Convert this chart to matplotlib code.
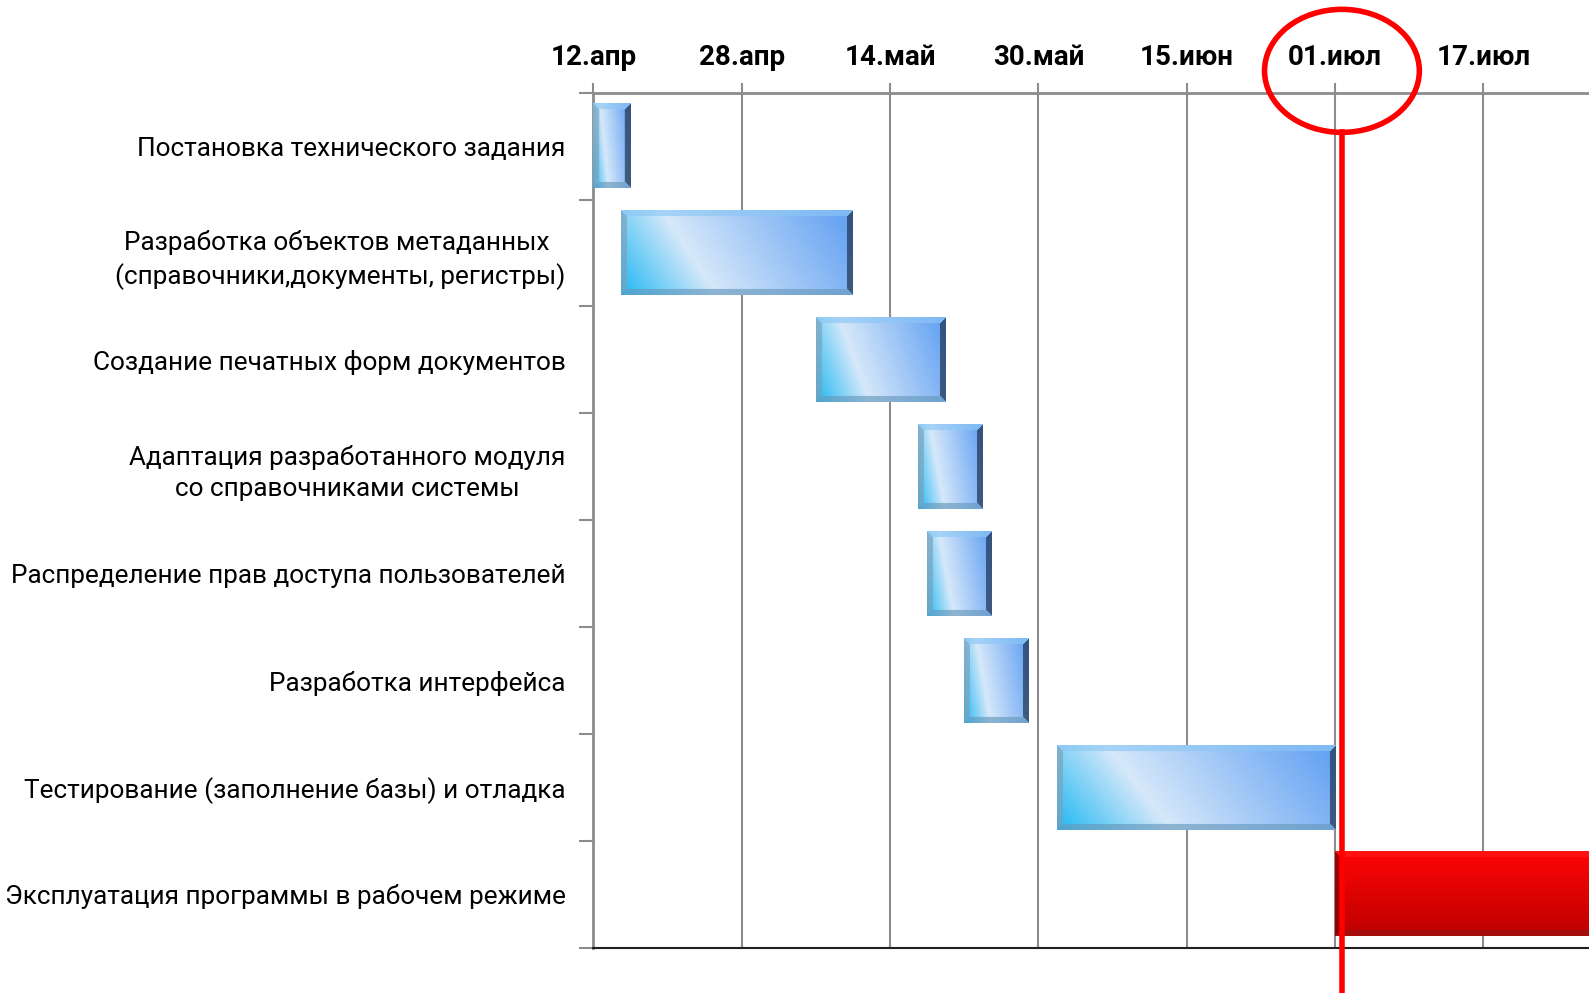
import numpy as np
import pandas as pd
import matplotlib
matplotlib.use('Agg')
import matplotlib.pyplot as plt
import matplotlib.dates as mdates
from matplotlib.patches import Ellipse
from matplotlib.transforms import blended_transform_factory

# Data
tasks = [
    'Постановка технического задания',
    'Разработка объектов метаданных \n(справочники,документы, регистры)',
    'Создание печатных форм документов',
    'Адаптация разработанного модуля\nсо справочниками системы',
    'Распределение прав доступа пользователей',
    'Разработка интерфейса',
    'Тестирование (заполнение базы) и отладка',
    'Эксплуатация программы в рабочем режиме',
]
start_dates = ['2013-04-12', '2013-04-15', '2013-05-06', '2013-05-17',
               '2013-05-18', '2013-05-22', '2013-06-01', '2013-07-01']
durations = [4, 25, 14, 7, 7, 7, 30, 30]
is_current = [False, False, False, False, False, False, False, True]

tick_dates = ['2013-04-12', '2013-04-28', '2013-05-14', '2013-05-30',
              '2013-06-15', '2013-07-01', '2013-07-17']
tick_labels = ['12.апр', '28.апр', '14.май', '30.май', '15.июн', '01.июл', '17.июл']
today = '2013-07-01 18:00'

plt.rcParams['font.family'] = ['Roboto', 'Liberation Sans', 'DejaVu Sans']

starts = mdates.date2num(pd.to_datetime(start_dates).to_pydatetime())
ticks = mdates.date2num(pd.to_datetime(tick_dates).to_pydatetime())
today_x = mdates.date2num(pd.Timestamp(today).to_pydatetime())

fig = plt.figure(figsize=(15.89, 9.93), dpi=100)
ax = fig.add_axes([0.3734, 0.0456, 0.6266, 0.861])
x_min = ticks[0]
x_max = ticks[0] + 107.4
ax.set_xlim(x_min, x_max)
ax.set_ylim(len(tasks) - 0.5, -0.5)

bar_h = 0.79


def bar_image(w, h, current):
    xs = np.linspace(0, 1, w)[None, :]
    ys = np.linspace(0, 1, h)[:, None]
    if current:
        top = np.array([1.0, 0.02, 0.02])
        bot = np.array([0.74, 0.0, 0.0])
        img = top + (bot - top) * ys[..., None] * np.ones((1, w, 1))
        light = np.array([1.0, 0.1, 0.1])
        dark_b = np.array([0.6, 0.08, 0.08])
        left_c = np.array([0.45, 0.0, 0.0])
        right_c = np.array([0.6, 0.0, 0.0])
    else:
        c0 = np.array([0.12, 0.72, 0.95])
        c1 = np.array([0.84, 0.91, 0.98])
        c2 = np.array([0.40, 0.64, 0.95])
        t = np.clip(xs * 0.85 + (1 - ys) * 0.2, 0, 1)[..., None]
        img = np.where(t < 0.35, c0 + (c1 - c0) * (t / 0.35),
                       c1 + (c2 - c1) * ((t - 0.35) / 0.65))
        light = np.array([0.55, 0.78, 0.96])
        dark_b = np.array([0.40, 0.60, 0.74])
        left_c = np.array([0.50, 0.62, 0.72])
        right_c = np.array([0.10, 0.16, 0.26])
    b = 6
    ii, jj = np.mgrid[0:h, 0:w]
    d = np.stack([ii, h - 1 - ii, jj, w - 1 - jj])
    which = np.argmin(d, axis=0)
    dmin = np.min(d, axis=0)
    for k, col in enumerate([light, dark_b, left_c, right_c]):
        m = (which == k) & (dmin < b)
        img[m] = img[m] * 0.35 + col * 0.65
    return np.clip(img, 0, 1)


px_per_day = ax.transData.transform((1, 0))[0] - ax.transData.transform((0, 0))[0]
px_per_row = abs(ax.transData.transform((0, 1))[1] - ax.transData.transform((0, 0))[1])

for k in range(len(tasks)):
    x0 = starts[k]
    x1 = starts[k] + durations[k]
    w = max(int(round(durations[k] * px_per_day)), 2)
    h = int(round(bar_h * px_per_row))
    img = bar_image(w, h, is_current[k])
    ax.imshow(img, extent=[x0, x1, k + bar_h / 2, k - bar_h / 2],
              aspect='auto', interpolation='bilinear', zorder=3)

ax.set_xlim(x_min, x_max)
ax.set_ylim(len(tasks) - 0.5, -0.5)

# axes styling
ax.xaxis.tick_top()
ax.set_xticks(ticks)
ax.set_xticklabels(tick_labels, fontsize=20, fontweight='bold')
ax.tick_params(axis='x', length=7, width=1.5, color='#8c8c8c', pad=9)
ax.grid(axis='x', color='#8c8c8c', lw=1.5, zorder=0)
ax.set_axisbelow(True)

ax.set_yticks(np.arange(len(tasks)))
ax.set_yticklabels(tasks, fontsize=18.8, multialignment='center', linespacing=1.4)
ax.set_yticks(np.arange(len(tasks) + 1) - 0.5, minor=True)
ax.tick_params(axis='y', which='major', length=0, pad=20)
ax.tick_params(axis='y', which='minor', length=10, width=1.5, color='#8c8c8c')

for s in ['top', 'left']:
    ax.spines[s].set_color('#8c8c8c')
    ax.spines[s].set_linewidth(2)
ax.spines['bottom'].set_color('#202020')
ax.spines['bottom'].set_linewidth(1.5)
ax.spines['right'].set_visible(False)

# current date marker
trans = blended_transform_factory(ax.transData, ax.transAxes)
ax.plot([today_x, today_x], [0.954, -0.06], transform=trans, color='red',
        lw=4, clip_on=False, zorder=5)
ax.add_patch(Ellipse((today_x, 1.0256), 16.7, 0.1439, transform=trans,
                     fill=False, edgecolor='red', lw=4, clip_on=False, zorder=5))

fig.savefig('out.png', dpi=100)
